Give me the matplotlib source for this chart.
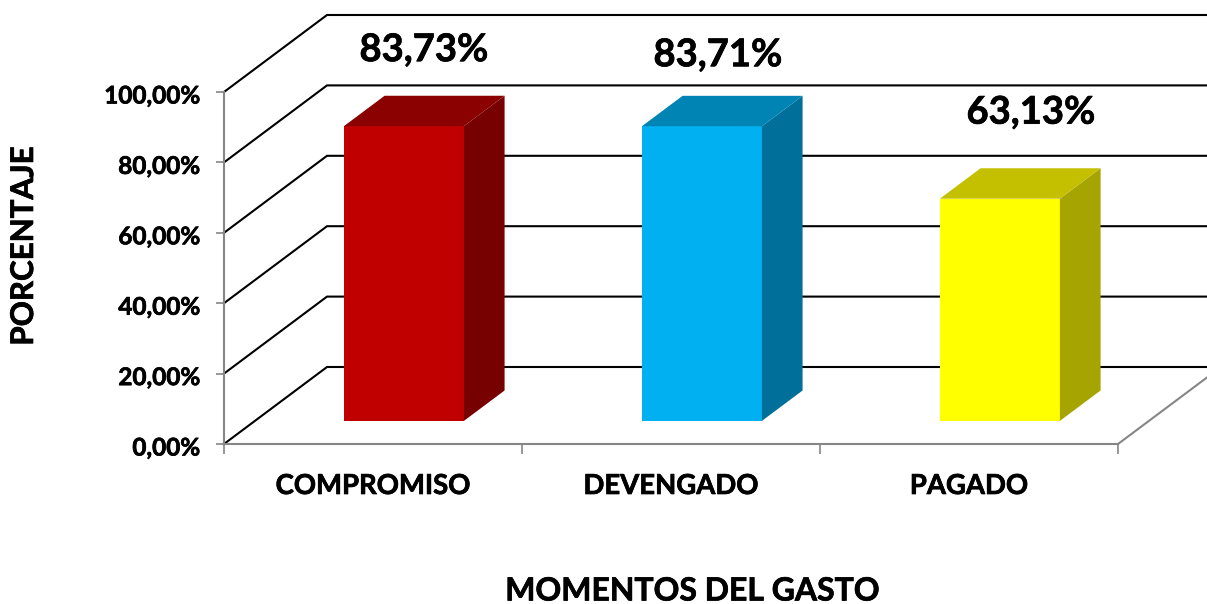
import matplotlib
matplotlib.use('Agg')
import matplotlib.pyplot as plt
from matplotlib.patches import Polygon
from matplotlib.transforms import ScaledTranslation
import matplotlib.patheffects as pe

plt.rcParams['font.family'] = ['Lato', 'DejaVu Sans']
plt.rcParams['font.weight'] = 'bold'

categories = ['COMPROMISO', 'DEVENGADO', 'PAGADO']
values = [83.73, 83.71, 63.13]
value_labels = ['83,73%', '83,71%', '63,13%']
y_ticks = [0, 20, 40, 60, 80, 100]
y_tick_labels = ['0,00%', '20,00%', '40,00%', '60,00%', '80,00%', '100,00%']

front_colors = ['#C00000', '#00B0F0', '#FFFF00']
top_colors = ['#8B0000', '#0084B4', '#C4C000']
side_colors = ['#770000', '#00709A', '#A6A400']
label_offsets = [(20, 76), (16, 71), (31, 86)]  # px from the bar's front top edge

W, H = 1207, 604
X0, X1, Y0, Y1 = 224, 1118, 444, 92  # front plane in pixels

# shear of the fake 3D box, in data units per unit of depth
DX = 103 / ((X1 - X0) / 3)
DY = 77 / ((Y0 - Y1) / 100)
BAR_W = 120 / ((X1 - X0) / 3)
D_FRONT = 0.30
D_BACK = 0.695

# slight outline, the original font is heavier than Lato bold
heavy = [pe.withStroke(linewidth=0.5, foreground='black')]


def shear(x, y, d):
    return x + d * DX, y + d * DY


fig = plt.figure(figsize=(W / 100, H / 100), dpi=100)
ax = fig.add_axes([X0 / W, 1 - Y0 / H, (X1 - X0) / W, (Y0 - Y1) / H])
ax.set_xlim(0, 3)
ax.set_ylim(0, 100)
ax.patch.set_visible(False)

# back wall and left wall grid
for v in y_ticks:
    xs = [shear(0, v, 0)[0], shear(0, v, 1)[0], shear(3, v, 1)[0]]
    ys = [shear(0, v, 0)[1], shear(0, v, 1)[1], shear(3, v, 1)[1]]
    ax.plot(xs, ys, color='black', lw=1.5, clip_on=False, zorder=1, solid_joinstyle='miter')

# floor edge on the right
fx, fy = zip(shear(3, 0, 0), shear(3, 0, 1))
ax.plot(fx, fy, color='#868686', lw=1.5, clip_on=False, zorder=1)

for i, val in enumerate(values):
    left = i + 0.5 - BAR_W / 2
    right = i + 0.5 + BAR_W / 2
    a = shear(left, 0, D_FRONT)
    b = shear(right, 0, D_FRONT)
    c = shear(right, val, D_FRONT)
    d = shear(left, val, D_FRONT)
    e = shear(right, 0, D_BACK)
    f = shear(right, val, D_BACK)
    g = shear(left, val, D_BACK)
    ax.add_patch(Polygon([a, b, c, d], fc=front_colors[i], ec='none', clip_on=False, zorder=3))
    ax.add_patch(Polygon([b, e, f, c], fc=side_colors[i], ec='none', clip_on=False, zorder=3))
    ax.add_patch(Polygon([d, c, f, g], fc=top_colors[i], ec='none', clip_on=False, zorder=3))
    ax.annotate(value_labels[i], xy=((d[0] + c[0]) / 2, d[1]), xytext=label_offsets[i],
                textcoords='offset pixels', ha='center', va='center', fontsize=27.5, color='black',
                annotation_clip=False, zorder=4, path_effects=heavy)

for s in ['top', 'right']:
    ax.spines[s].set_visible(False)
for s in ['left', 'bottom']:
    ax.spines[s].set_color('#868686')
    ax.spines[s].set_linewidth(1.5)
    ax.spines[s].set_zorder(2)

ax.set_yticks(y_ticks)
ax.set_yticklabels(y_tick_labels, fontsize=17.5, path_effects=heavy)
ax.set_xticks([0, 1, 2, 3])
ax.set_xticklabels([])
ax.tick_params(axis='y', length=5.5, width=1.2, color='#868686', pad=12)
ax.tick_params(axis='x', length=7, width=1.2, color='#868686')

# tick labels sit a little below their ticks
for lbl in ax.get_yticklabels():
    lbl.set_transform(lbl.get_transform() + ScaledTranslation(0, -2 / 100, fig.dpi_scale_trans))

# category labels sit under the bars
for i, name in enumerate(categories):
    ax.annotate(name, xy=(i + 0.5, 0), xytext=(0, -42), textcoords='offset pixels',
                ha='center', va='center', fontsize=19.8, annotation_clip=False, path_effects=heavy)

fig.text(24 / W, 1 - 246 / H, 'PORCENTAJE', rotation=90, ha='center', va='center', fontsize=22.5,
         path_effects=heavy)
fig.text(693 / W, 1 - 591 / H, 'MOMENTOS DEL GASTO', ha='center', va='center', fontsize=23,
         path_effects=heavy)

fig.savefig('out.png', dpi=100)
